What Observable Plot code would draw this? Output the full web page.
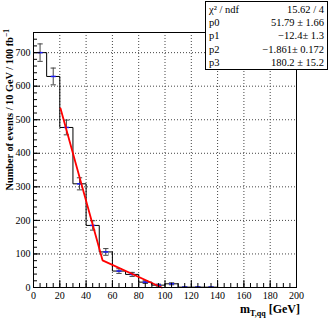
<!DOCTYPE html>
<html>
<head>
<meta charset="utf-8">
<script src="https://cdn.jsdelivr.net/npm/d3@7"></script>
<script src="https://cdn.jsdelivr.net/npm/@observablehq/plot@0.6"></script>
<style>
  html, body { margin: 0; padding: 0; background: white; }
  #wrap { position: relative; width: 332px; height: 320px; overflow: hidden; }
  #stats {
    position: absolute; left: 205px; top: 1px; width: 123px; height: 69px;
    background: white; border: 1px solid black; box-sizing: border-box;
    font-family: "Liberation Serif", serif; font-size: 10.5px; color: black;
    padding: 1px 3px 0 3px;
  }
  #stats .row { display: flex; justify-content: space-between; height: 13.2px; line-height: 13.2px; }
</style>
</head>
<body>
<div id="wrap"></div>
<script>
// ---- data ----
const binLow = [0, 10, 20, 30, 40, 50, 60, 70, 80, 90, 100, 110, 120, 130];
const binWidth = 10;
const counts = [700, 629, 477, 309, 185, 106, 49, 39, 16, 7, 11, 1, 1, 1];
const errors = [26, 25, 22, 18, 14, 10, 7, 6, 4, 3, 3, 1, 1, 1];
const fitX = [20.5, 52.5, 97.5];
const fitY = [534, 81, 0];
const xMajorTicks = [0, 20, 40, 60, 80, 100, 120, 140, 160, 180, 200];
const yMajorTicks = [0, 100, 200, 300, 400, 500, 600, 700];
const statNames = ["\u03C7\u00B2 / ndf", "p0", "p1", "p2", "p3"];
const statValues = ["15.62 / 4", "51.79 \u00B1 1.66", "\u221212.4\u00B1 1.3", "\u22121.861\u00B1 0.172", "180.2 \u00B1 15.2"];

// ---- derived tables ----
const points = binLow.map((lo, i) => ({x: lo + binWidth / 2, y: counts[i], e: errors[i]}));
const step = [{x: binLow[0], y: 0}]
  .concat(binLow.map((lo, i) => ({x: lo, y: counts[i]})))
  .concat([{x: binLow[binLow.length - 1] + binWidth, y: counts[counts.length - 1]},
           {x: binLow[binLow.length - 1] + binWidth, y: 0}]);
const fit = fitX.map((x, i) => ({x, y: fitY[i]}));
const caps = points.flatMap(p => [{x: p.x, y: p.y + p.e}, {x: p.x, y: p.y - p.e}]);
const hline = {draw(ctx, size) { const r = Math.sqrt(size); ctx.moveTo(-r, 0); ctx.lineTo(r, 0); }};

const xMinor = d3.range(0, 201, 5);
const yMinor = d3.range(0, 761, 20);

const chart = Plot.plot({
  width: 332, height: 320,
  marginLeft: 33, marginRight: 36, marginTop: 32, marginBottom: 33,
  style: {fontFamily: "Liberation Serif, serif", fontSize: "10px", background: "white", color: "black"},
  x: {domain: [0, 200]},
  y: {domain: [0, 760]},
  marks: [
    Plot.gridX({ticks: xMajorTicks.filter(v => v > 0 && v < 200), stroke: "#444", strokeOpacity: 1, strokeDasharray: "1,2"}),
    Plot.gridY({ticks: yMajorTicks.filter(v => v > 0), stroke: "#444", strokeOpacity: 1, strokeDasharray: "1,2"}),
    Plot.line(step, {x: "x", y: "y", curve: "step-after", stroke: "black", strokeWidth: 1}),
    Plot.ruleX(points, {x: "x", y1: d => d.y - d.e, y2: d => d.y + d.e, stroke: "#444", strokeWidth: 1}),
    Plot.dot(caps, {x: "x", y: "y", symbol: hline, r: 1.5, stroke: "#444", strokeWidth: 1}),
    Plot.dot(points, {x: "x", y: "y", symbol: hline, r: 1.4, stroke: "#1a1aff", strokeWidth: 1.5}),
    Plot.line(fit, {x: "x", y: "y", stroke: "#ff0000", strokeWidth: 1.8}),
    Plot.axisX({ticks: xMinor, tickSize: -4, text: null, label: null}),
    Plot.axisX({ticks: xMajorTicks, tickSize: -7, text: null, label: null}),
    Plot.axisX({ticks: xMajorTicks, tickSize: 0, tickPadding: 4, label: null, tickFormat: d => String(d)}),
    Plot.axisY({ticks: yMinor, tickSize: -4, text: null, label: null}),
    Plot.axisY({ticks: yMajorTicks, tickSize: -7, text: null, label: null}),
    Plot.axisY({ticks: yMajorTicks, tickSize: 0, tickPadding: 3, label: null, tickFormat: d => String(d)}),
    Plot.frame({stroke: "black", strokeWidth: 1})
  ]
});

const svg = d3.select(chart);
// y axis title
const yt = svg.append("text")
  .attr("transform", "translate(13,29) rotate(-90)")
  .attr("text-anchor", "end")
  .attr("font-family", "Liberation Serif, serif")
  .attr("font-weight", "bold")
  .attr("font-size", "10.3px")
  .attr("fill", "black");
yt.append("tspan").text("Number of events / 10 GeV / 100 fb");
yt.append("tspan").attr("dy", "-4").attr("font-size", "7.5px").text("\u22121");
// x axis title
const xt = svg.append("text")
  .attr("x", 300).attr("y", 313)
  .attr("text-anchor", "end")
  .attr("font-family", "Liberation Serif, serif")
  .attr("font-weight", "bold")
  .attr("font-size", "12px")
  .attr("fill", "black");
xt.append("tspan").text("m");
xt.append("tspan").attr("dy", "3").attr("font-size", "8px").text("T,qq");
xt.append("tspan").attr("dy", "-3").text(" [GeV]");

const wrap = document.getElementById("wrap");
wrap.appendChild(chart);
const box = document.createElement("div");
box.id = "stats";
statNames.forEach((n, i) => {
  const row = document.createElement("div");
  row.className = "row";
  const a = document.createElement("span"); a.textContent = n;
  const b = document.createElement("span"); b.textContent = statValues[i];
  row.appendChild(a); row.appendChild(b);
  box.appendChild(row);
});
wrap.appendChild(box);
</script>
</body>
</html>
